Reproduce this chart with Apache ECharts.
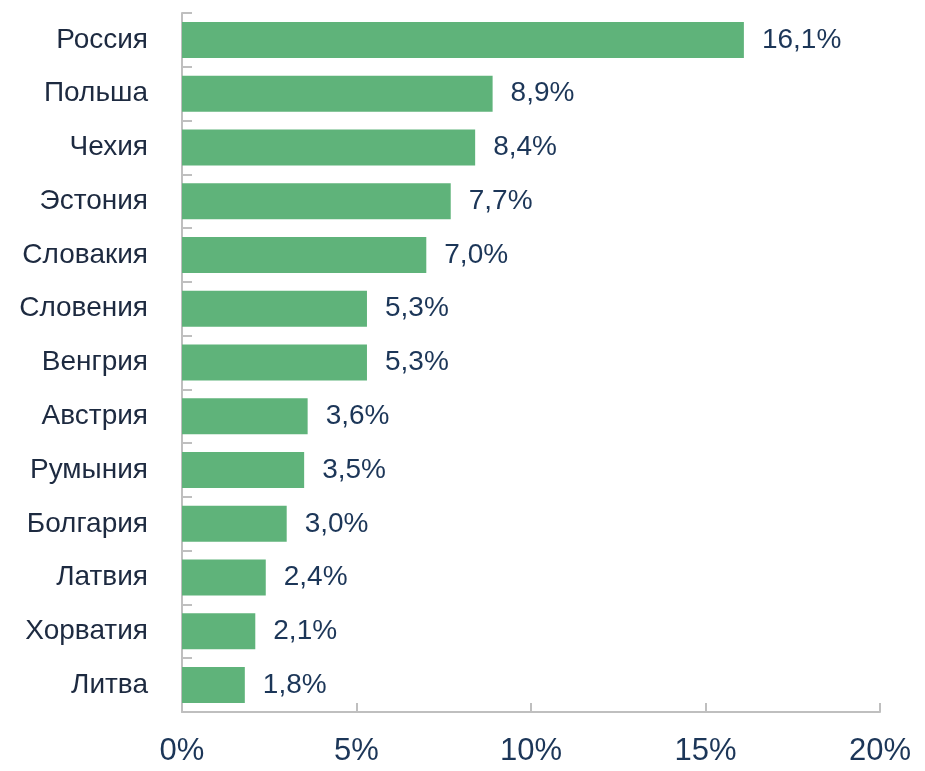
<!DOCTYPE html>
<html>
<head>
<meta charset="utf-8">
<script src="https://cdn.jsdelivr.net/npm/echarts@6/dist/echarts.min.js"></script>
<style>
  html, body { margin: 0; padding: 0; background: #fff; }
  #chart { width: 925px; height: 771px; }
</style>
</head>
<body>
<div id="chart"></div>
<script>
// страны сверху вниз
var countries = ['Россия', 'Польша', 'Чехия', 'Эстония', 'Словакия', 'Словения', 'Венгрия',
  'Австрия', 'Румыния', 'Болгария', 'Латвия', 'Хорватия', 'Литва'];
var shares = [16.1, 8.9, 8.4, 7.7, 7.0, 5.3, 5.3, 3.6, 3.5, 3.0, 2.4, 2.1, 1.8];
var xTicks = [0, 5, 10, 15, 20];

var font = 'Liberation Sans, Arial, sans-serif';

echarts.init(document.getElementById('chart')).setOption({
  animation: false,
  grid: { left: 182, right: 45, top: 13, bottom: 59 },
  xAxis: {
    type: 'value',
    min: xTicks[0],
    max: xTicks[xTicks.length - 1],
    interval: 5,
    splitLine: { show: false },
    axisLine: { show: true, lineStyle: { color: '#bfbfbf', width: 2 } },
    axisTick: { show: true, inside: true, length: 9, lineStyle: { color: '#bfbfbf', width: 2 } },
    axisLabel: {
      margin: 24, fontSize: 31, color: '#1c3658', fontFamily: font,
      formatter: function (v) { return v + '%'; }
    }
  },
  yAxis: {
    type: 'category',
    inverse: true,
    data: countries,
    axisLine: { show: true, lineStyle: { color: '#bfbfbf', width: 2 } },
    axisTick: { show: true, inside: true, length: 10, lineStyle: { color: '#bfbfbf', width: 2 } },
    axisLabel: { margin: 34, fontSize: 28, color: '#1d2a40', fontFamily: font }
  },
  series: [{
    type: 'bar',
    data: shares,
    barWidth: 36,
    itemStyle: { color: '#5fb37a' },
    label: {
      show: true,
      position: 'right',
      distance: 18,
      fontSize: 28,
      color: '#1c3658',
      fontFamily: font,
      formatter: function (p) { return p.value.toFixed(1).replace('.', ',') + '%'; }
    }
  }]
});
</script>
</body>
</html>
